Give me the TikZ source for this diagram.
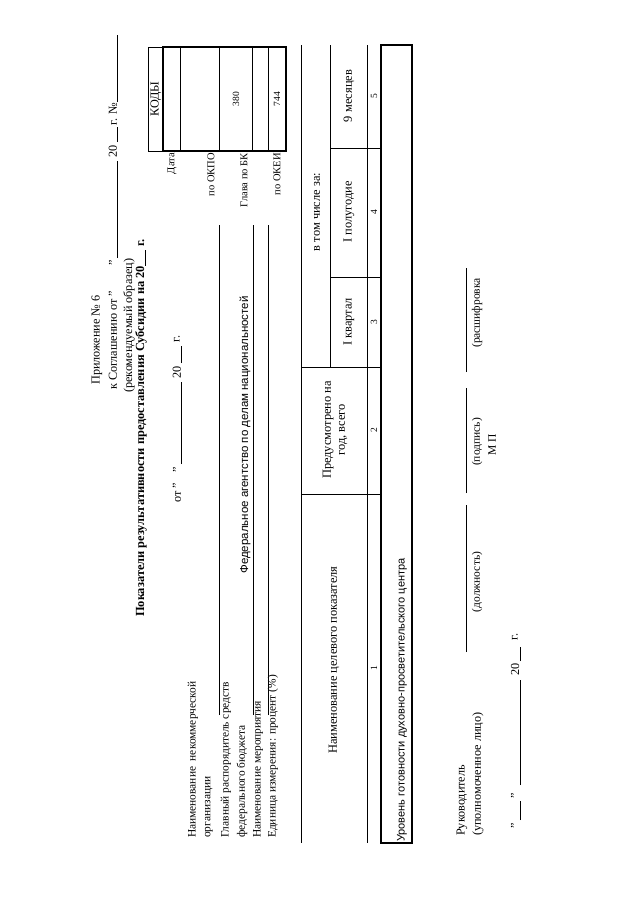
\documentclass[tikz,border=0pt]{standalone}
\usepackage{fontspec}
\setmainfont{Liberation Serif}
\newfontfamily\arialf{Liberation Sans}
\begin{document}
\begin{tikzpicture}[x=1pt,y=-1pt,
  every node/.style={rotate=90,inner sep=0pt},
  hdr/.style={font=\fontsize{12.2}{13}\selectfont},
  lab/.style={font=\fontsize{11.4}{12}\selectfont},
  code/.style={font=\fontsize{10.5}{11}\selectfont},
  num/.style={font=\fontsize{9.5}{10}\selectfont},
  th/.style={font=\fontsize{12.4}{14}\selectfont},
  sigcap/.style={font=\fontsize{11.5}{12}\selectfont},
  thinl/.style={line width=0.6pt},
  thickl/.style={line width=1.5pt}]
\useasboundingbox[fill=white] (0,0) rectangle (640,905);

% header
\node[hdr,anchor=west] (h1) at (97,385) {Приложение № 6};
\node[hdr,anchor=west] (h2) at (113,390) {к Соглашению от "};
\node[hdr] (h2q) at (113,263) {"};
\node[hdr] (h2y) at (113,151) {20};
\node[hdr] (h2g) at (113,114) {г. №};
\draw[thinl] (117.5,258) -- (117.5,161);
\draw[thinl] (117.5,142) -- (117.5,127);
\draw[thinl] (117.5,102) -- (117.5,35);
\node[hdr,anchor=west] (h3) at (129,393) {(рекомендуемый образец)};
\node[font=\bfseries\fontsize{12.4}{14}\selectfont,anchor=west] (title) at (141,617) {Показатели результативности предоставления Субсидии на 20\underline{\hspace{16pt}} г.};
\node[hdr,anchor=west] (ot) at (177,503) {от "};
\node[hdr] (otq) at (177,470) {"};
\node[hdr] (oty) at (177,372) {20};
\node[hdr] (otg) at (177,339) {г.};
\draw[thinl] (181.5,464) -- (181.5,382);
\draw[thinl] (181.5,363) -- (181.5,346);

% codes box
\draw[thinl] (163,47) -- (148,47) -- (148,151) -- (163,151);
\draw[thickl] (163,47) rectangle (286,151);
\draw[thinl] (180,47) -- (180,151);
\draw[thinl] (219,47) -- (219,151);
\draw[thinl] (252,47) -- (252,151);
\draw[thinl] (268,47) -- (268,151);
\node[font=\fontsize{12.2}{13}\selectfont] (kody) at (156,99) {КОДЫ};
\node[num] (v380) at (236,99) {380};
\node[num] (v744) at (277,99) {744};
\node[code,anchor=east] (data) at (172,153) {Дата};
\node[code,anchor=east] (okpo) at (211,153) {по ОКПО};
\node[code,anchor=east] (bk) at (244,153) {Глава по БК};
\node[code,anchor=east] (okei) at (277,153) {по ОКЕИ};

% left labels
\node[lab,anchor=west] (l1) at (193,838) {Наименование\ \ некоммерческой};
\node[lab,anchor=west] (l2) at (209,838) {организации};
\node[lab,anchor=west] (l3) at (226,838) {Главный распорядитель средств};
\node[lab,anchor=west] (l4) at (242,838) {федерального бюджета};
\node[lab,anchor=west] (l5) at (258,838) {Наименование мероприятия};
\node[lab,anchor=west] (l6) at (273,838) {Единица измерения: процент (\%)};
\draw[thinl] (219,715) -- (219,225);
\draw[thinl] (253,715) -- (253,225);
\draw[thinl] (268,715) -- (268,225);
\node[font=\arialf\fontsize{11.5}{13}\selectfont] (fed) at (245,435) {Федеральное агентство по делам национальностей};

% main table
\draw[thinl] (301,45) -- (301,843);
\draw[thinl] (330,45) -- (330,367);
\draw[thinl] (367,45) -- (367,843);
\draw[thinl] (301,494) -- (381,494);
\draw[thinl] (301,367) -- (381,367);
\draw[thinl] (330,277) -- (381,277);
\draw[thinl] (330,148) -- (381,148);
\draw[thickl] (381,45) rectangle (412,843);
\node[th] (c1) at (334,660) {Наименование целевого показателя};
\node[th,align=center] (c2) at (335,430) {Предусмотрено на\\год, всего};
\node[th] (c35) at (317,212) {в том числе за:};
\node[th] (c3) at (349,322) {I квартал};
\node[th] (c4) at (349,212) {I полугодие};
\node[th] (c5) at (349,96) {9 месяцев};
\node[num] (n1) at (374,668) {1};
\node[num] (n2) at (374,430) {2};
\node[num] (n3) at (374,322) {3};
\node[num] (n4) at (374,212) {4};
\node[num] (n5) at (374,96) {5};
\node[font=\arialf\fontsize{11}{12}\selectfont,anchor=west] (row) at (402,842) {Уровень готовности духовно-просветительского центра};

% signatures
\node[hdr,anchor=west] (r1) at (462,836) {Руководитель};
\node[hdr,anchor=west] (r2) at (478,836) {(уполномоченное лицо)};
\draw[thinl] (466,652) -- (466,505);
\draw[thinl] (466,493) -- (466,388);
\draw[thinl] (466,372) -- (466,268);
\node[sigcap] (dol) at (477,582) {(должность)};
\node[sigcap] (pod) at (477,442) {(подпись)};
\node[sigcap] (mp) at (492,445) {М П};
\node[sigcap,anchor=west] (ras) at (477,348) {(расшифровка};
\node[hdr] (dq1) at (515,826) {"};
\node[hdr] (dq2) at (515,796) {"};
\node[hdr] (dy) at (515,669) {20};
\node[hdr] (dg) at (515,637) {г.};
\draw[thinl] (520,820) -- (520,801);
\draw[thinl] (520,785) -- (520,680);
\draw[thinl] (520,661) -- (520,647);
\end{tikzpicture}
\end{document}
